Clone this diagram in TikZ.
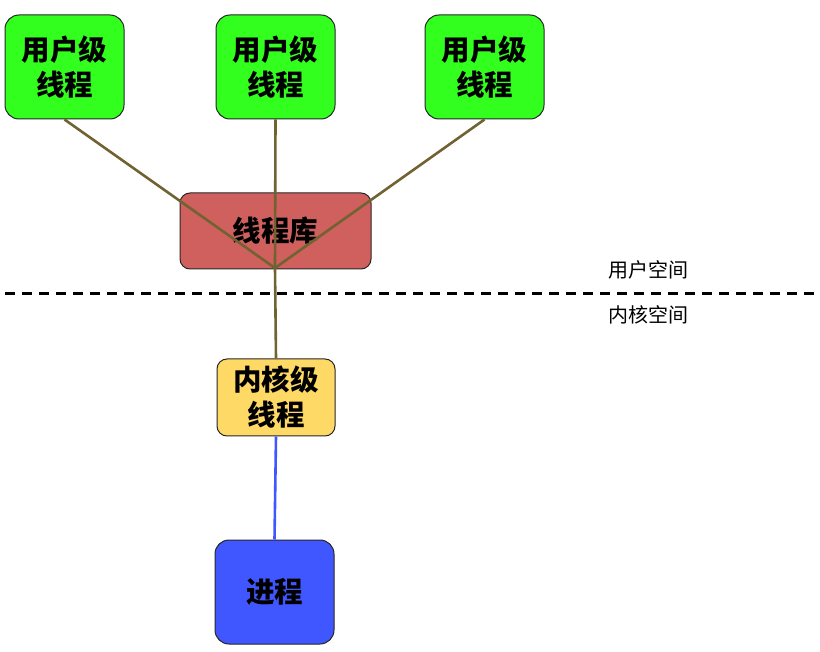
\documentclass[tikz,border=0pt]{standalone}
\usepackage{fontspec}
\newfontfamily\cjk{Noto Sans CJK SC}
\usepackage{tikz}
\usetikzlibrary{arrows.meta}

\definecolor{ugreen}{HTML}{33FF1F}
\definecolor{libred}{HTML}{D0605E}
\definecolor{kyellow}{HTML}{FFD966}
\definecolor{pblue}{HTML}{4056FF}
\definecolor{linkbrown}{HTML}{716232}

\begin{document}
\begin{tikzpicture}[x=1pt, y=-1pt,
    box/.style={draw=black!85, line width=1pt, rounded corners=14pt,
        align=center, inner sep=0pt, font=\cjk\bfseries\fontsize{28.5}{35}\selectfont},
    ubox/.style={box, fill=ugreen, minimum width=119pt, minimum height=104pt},
    link/.style={linkbrown, line width=2.6pt}]
\useasboundingbox (0,0) rectangle (820,652);

% User-level threads
\node[ubox] (u1) at (64.5,67) {用户级\\线程};
\node[ubox] (u2) at (275.5,67) {用户级\\线程};
\node[ubox] (u3) at (484.5,67) {用户级\\线程};

% Thread library
\node[box, fill=libred, rounded corners=10pt, minimum width=191pt,
    minimum height=76pt] (lib) at (275.5,231) {线程库};

% Kernel-level thread and process
\node[box, fill=kyellow, rounded corners=10pt, minimum width=118pt,
    minimum height=77pt] (kt) at (276,397.5) {内核级\\线程};
\node[ubox, fill=pblue] (proc) at (274.5,592) {进程};

% Boundary between user and kernel space
\coordinate (b1) at (5,294);
\coordinate (b2) at (820,294);
\draw[black, line width=3pt, dash pattern=on 10pt off 7pt] (b1) -- (b2);
\node[font=\cjk\fontsize{20}{22}\selectfont] (us) at (648,270) {用户空间};
\node[font=\cjk\fontsize{20}{22}\selectfont] (ks) at (648,315) {内核空间};

% Links
\coordinate (hub) at (275,268);
\foreach \u in {u1,u2,u3}
    \draw[link] (\u.south) -- (hub);
\draw[link] (hub) -- (kt.north);
\draw[pblue, line width=2.6pt] (kt.south) -- (proc.north);
\end{tikzpicture}
\end{document}
